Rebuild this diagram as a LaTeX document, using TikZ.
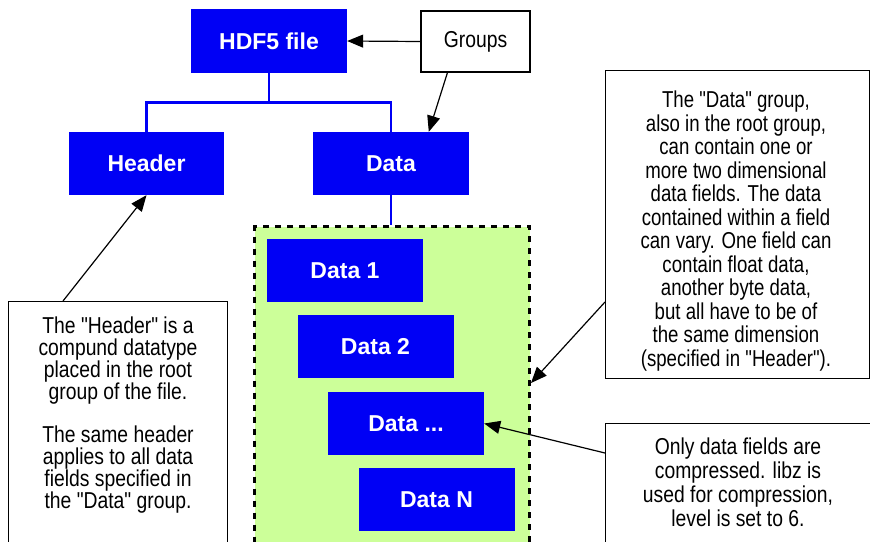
\documentclass[tikz,border=0pt]{standalone}
\usepackage{fontspec}
\setmainfont{Liberation Sans}
\newfontfamily\notefont[FakeStretch=0.84]{Liberation Sans}
\newfontfamily\narrownotefont[FakeStretch=0.81]{Liberation Sans}
\usetikzlibrary{arrows.meta}
\definecolor{boxblue}{RGB}{0,0,245}
\definecolor{groupgreen}{RGB}{204,255,153}

\begin{document}
\begin{tikzpicture}[x=1pt,y=-1pt,
  bluebox/.style={fill=boxblue, text=white, inner sep=0pt,
    font=\bfseries\fontsize{23}{26}\selectfont,
    minimum width=156pt, minimum height=63pt},
  notebox/.style={draw=black, line width=1.3pt, fill=white, inner sep=0pt, anchor=north west},
  notetext/.style={align=center, inner sep=0pt, anchor=north},
  tree/.style={draw=boxblue, line width=2.6pt},
  arr/.style={draw=black, line width=1.2pt, -{Triangle[length=16pt,width=13pt]}}]

\clip (0,0) rectangle (870,541);
\fill[white] (0,0) rectangle (870,541);

% hierarchy of the file
\node[bluebox, minimum height=64pt] (hdf) at (269,41) {HDF5 file};
\node[bluebox, minimum width=155pt] (header) at (146.5,163.5) {Header};
\node[bluebox] (data) at (391,163.5) {Data};

\draw[tree] (hdf.south) -- ++(0,29) coordinate (split);
\draw[tree] (header.north) |- (split) -| (data.north);

% the data group with its fields
\node[draw=black, fill=groupgreen, line width=3pt, dash pattern=on 6pt off 6pt,
      minimum width=275pt, minimum height=340pt, anchor=north west, inner sep=0pt]
      (grp) at (253,225) {};
\draw[tree] (data.south) -- (data.south |- grp.north);

\node[bluebox] (d1) at (345,270.5) {Data 1};
\node[bluebox] (d2) at (375.5,346.5) {Data 2};
\node[bluebox] (d3) at (406,423.5) {Data ...};
\node[bluebox] (dN) at (436.5,499.5) {Data N};

% label box
\node[draw=black, line width=1.3pt, minimum width=109pt, minimum height=61pt,
      inner sep=0pt, font=\notefont\fontsize{23}{24}\selectfont]
      (groups) at (475.5,41.5) {Groups};

% explanatory notes
\node[notebox, minimum width=219pt, minimum height=260pt] (hnote) at (8,301) {};
\node[notetext, font=\notefont\fontsize{23}{21.8}\selectfont] (htext) at (118,317)
  {The "Header" is a\\compund datatype\\placed in the root\\group of the file.\\[21.8pt]
   The same header\\applies to all data\\fields specified in\\the "Data" group.};

\node[notebox, minimum width=264pt, minimum height=308pt] (dnote) at (605,70) {};
\node[notetext, font=\narrownotefont\fontsize{23}{23.5}\selectfont] (dtext) at (736,91)
  {The "Data" group,\\also in the root group,\\can contain one or\\more two dimensional\\
   data fields. The data\\contained within a field\\can vary. One field can\\
   contain float data,\\another byte data,\\but all have to be of\\the same dimension\\
   (specified in "Header").};

\node[notebox, minimum width=280pt, minimum height=140pt] (cnote) at (605,423) {};
\node[notetext, font=\notefont\fontsize{23}{24}\selectfont] (ctext) at (738,438)
  {Only data fields are\\compressed. libz is\\used for compression,\\level is set to 6.};

% pointers
\draw[arr] (groups.west) -- (hdf.east);
\draw[arr] (groups.228) -- (data.40);
\draw[arr] ([xshift=55pt]hnote.north west) -- (header.south);
\draw[arr] ([yshift=-232pt]dnote.north west) -- ([yshift=-158pt]grp.north east);
\draw[arr] ([yshift=-30pt]cnote.north west) -- (d3.east);
\end{tikzpicture}
\end{document}
